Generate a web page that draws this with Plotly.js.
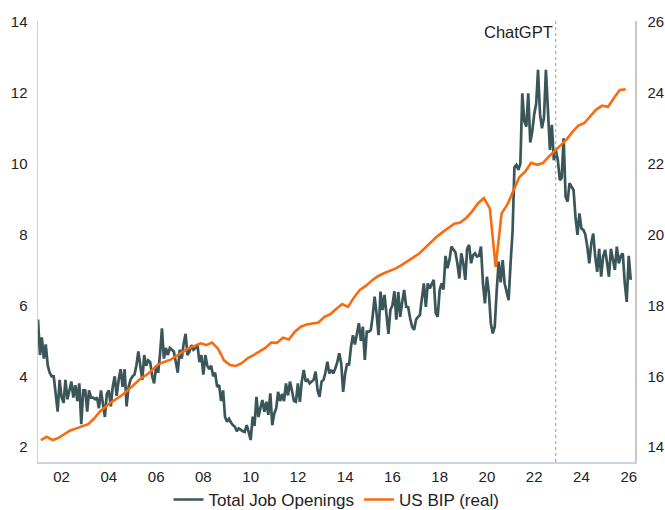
<!DOCTYPE html>
<html>
<head>
<meta charset="utf-8">
<script src="https://cdn.plot.ly/plotly-3.0.1.min.js"></script>
<style>
  html, body { margin: 0; padding: 0; background: #ffffff; }
  #chart { width: 665px; height: 510px; }
</style>
</head>
<body>
<div id="chart"></div>
<script>
// Total Job Openings (millions), monthly from Jan 2001
const jobStart = [2001, 1];
const jobOpenings = [
  5.6, 4.6, 5.1, 4.5, 4.9, 4.3, 4.1, 4.0, 4.0, 3.5, 3.0, 3.9,
  3.4, 3.25, 3.9, 3.35, 3.6, 3.85, 3.4, 3.75, 3.3, 3.8, 2.65, 3.6,
  3.6, 3.0, 3.6, 3.4, 3.4, 3.35, 3.4, 3.1, 3.6, 3.15, 2.85, 3.5,
  3.6, 3.15, 3.7, 4.0, 3.45, 3.9, 4.2, 3.7, 4.2, 3.15, 3.7, 3.9,
  4.0, 4.05, 4.3, 4.7, 4.3, 3.9, 4.6, 4.3, 4.45, 4.4, 4.0, 3.8,
  4.3, 4.1, 4.6, 5.35, 4.5, 4.8, 4.6, 4.8, 4.75, 4.7, 4.4, 4.1,
  4.75, 4.5, 4.9, 5.2, 4.6, 4.7, 4.88, 4.75, 4.8, 4.9, 4.4, 4.6,
  4.05, 4.6, 4.3, 4.2, 4.3, 4.0, 4.1, 3.7, 3.75, 3.3, 3.6, 2.85,
  2.72, 2.8, 2.7, 2.62, 2.58, 2.45, 2.53, 2.48, 2.45, 2.43, 2.62, 2.43,
  2.2, 2.86, 2.6, 3.42, 2.85, 3.1, 3.33, 3.0, 3.28, 2.91, 3.52, 2.62,
  2.95, 3.1, 3.56, 3.3, 3.5, 3.3, 3.8, 3.46, 3.85, 3.6, 3.3, 3.28,
  3.8, 3.28, 3.85, 4.18, 3.85, 3.9, 3.8, 3.85, 3.9, 4.13, 3.6, 3.42,
  3.85, 3.9, 4.1, 4.41, 4.08, 4.18, 4.08, 4.22, 4.4, 4.65, 4.36, 3.56,
  4.08, 4.36, 4.31, 4.83, 5.16, 4.9, 5.26, 5.5, 5.0, 5.4, 4.46, 5.26,
  5.26, 5.3, 5.68, 6.25, 5.78, 5.16, 6.39, 5.87, 6.3, 5.64, 5.2, 5.87,
  6.0, 6.4, 5.6, 6.38, 5.68, 6.1, 6.44, 5.96, 5.95, 5.64, 5.4, 5.31,
  5.6, 5.68, 5.73, 6.2, 6.62, 5.96, 6.62, 6.48, 6.62, 6.72, 5.78, 5.68,
  6.44, 6.62, 6.45, 7.4, 7.05, 7.28, 7.66, 7.57, 7.5, 7.19, 6.76, 7.47,
  7.19, 6.72, 7.6, 7.71, 7.19, 7.42, 7.47, 7.38, 7.4, 7.66, 6.62, 6.06,
  6.81, 6.34, 5.5, 5.21, 5.4, 6.44, 7.24, 6.65, 7.28, 6.62, 6.34, 6.15,
  7.2, 8.1, 9.9, 9.97, 9.83, 10.0, 11.99, 11.2, 11.05, 11.99, 10.6, 10.9,
  11.4, 11.7, 12.65, 11.4, 11.0, 11.3, 12.65, 11.4, 10.39, 11.1, 10.1, 10.39,
  10.1, 9.54, 9.6, 10.72, 9.07, 8.93, 9.45, 9.35, 9.26, 8.5, 7.99, 8.6,
  8.17, 8.13, 8.0, 7.66, 7.19, 7.75, 8.03, 7.38, 6.95, 7.6, 6.81, 7.38,
  7.57, 7.19, 6.81, 7.6, 7.3, 7.0, 7.66, 7.19, 7.4, 7.47, 6.62, 6.1,
  7.4, 6.72
];

// US BIP (real), trillions, quarterly from 2001 Q1 (plotted mid-quarter)
const gdpStart = [2001, 1];
const gdpReal = [
  14.2, 14.29, 14.2, 14.26,
  14.37, 14.47, 14.53, 14.58,
  14.65, 14.8, 15.0, 15.15,
  15.28, 15.38, 15.5, 15.65,
  15.8, 15.95, 16.05, 16.2,
  16.35, 16.41, 16.47, 16.58,
  16.7, 16.79, 16.85, 16.93,
  16.88, 16.95, 16.78, 16.45,
  16.32, 16.29, 16.37, 16.51,
  16.6, 16.7, 16.8, 16.95,
  16.95, 17.09, 17.04, 17.26,
  17.4, 17.46, 17.49, 17.52,
  17.68, 17.75, 17.9, 18.04,
  17.96, 18.22, 18.44, 18.55,
  18.7, 18.82, 18.9, 18.96,
  19.04, 19.13, 19.25, 19.35,
  19.46, 19.62, 19.78, 19.94,
  20.07, 20.2, 20.31, 20.34,
  20.47, 20.65, 20.88, 21.03,
  20.74, 19.09, 20.6, 20.86,
  21.25, 21.62, 21.78, 22.03,
  21.97, 22.02, 22.2, 22.36,
  22.5, 22.68, 22.9, 23.08,
  23.15, 23.35, 23.53, 23.64,
  23.61, 23.85, 24.08, 24.1
];

const seriesNames = ['Total Job Openings', 'US BIP (real)'];
const eventLabel = 'ChatGPT';
const eventDate = '2022-11-30';
const xTickVals = ['2002-01-01','2004-01-01','2006-01-01','2008-01-01','2010-01-01','2012-01-01','2014-01-01','2016-01-01','2018-01-01','2020-01-01','2022-01-01','2024-01-01','2026-01-01'];
const xTickText = ['02','04','06','08','10','12','14','16','18','20','22','24','26'];
const yLeftTicks = [2, 4, 6, 8, 10, 12, 14];
const yRightTicks = [14, 16, 18, 20, 22, 24, 26];

function pad(n) { return (n < 10 ? '0' : '') + n; }
function monthDates(start, count, stepMonths, day) {
  const out = [];
  let y = start[0], m = start[1];
  for (let i = 0; i < count; i++) {
    out.push(y + '-' + pad(m) + '-' + day);
    m += stepMonths;
    while (m > 12) { m -= 12; y += 1; }
  }
  return out;
}
const jobDates = monthDates(jobStart, jobOpenings.length, 1, '01');
const gdpDates = monthDates([gdpStart[0], gdpStart[1] + 1], gdpReal.length, 3, '15');

const FONT = 'Liberation Sans, Arial, sans-serif';

const traces = [
  {
    x: jobDates, y: jobOpenings, name: seriesNames[0],
    type: 'scatter', mode: 'lines',
    line: { color: '#3b5659', width: 2.7 },
    yaxis: 'y'
  },
  {
    x: gdpDates, y: gdpReal, name: seriesNames[1],
    type: 'scatter', mode: 'lines',
    line: { color: '#fa6b10', width: 2.6 },
    yaxis: 'y2'
  }
];

const layout = {
  width: 665, height: 510,
  margin: { l: 38, r: 30, t: 21, b: 48, autoexpand: false },
  paper_bgcolor: '#ffffff', plot_bgcolor: '#ffffff',
  font: { family: FONT, size: 15, color: '#222222' },
  showlegend: true,
  legend: {
    orientation: 'h', x: 0.5, xanchor: 'center', y: -0.086, yanchor: 'middle',
    font: { family: FONT, size: 17, color: '#222222' },
    itemwidth: 30, tracegroupgap: 0
  },
  xaxis: {
    type: 'date', range: ['2001-01-01', '2026-04-08'],
    tickmode: 'array', tickvals: xTickVals, ticktext: xTickText,
    showgrid: false, zeroline: false,
    showline: true, linecolor: '#c9d5d8', linewidth: 1.5,
    ticks: '', tickfont: { family: FONT, size: 15, color: '#222222' },
    fixedrange: true
  },
  yaxis: {
    range: [1.58, 14.03], tickmode: 'array', tickvals: yLeftTicks,
    showgrid: false, zeroline: false,
    showline: true, linecolor: '#c9d5d8', linewidth: 1.5,
    ticks: '', ticklabelstandoff: 6,
    tickfont: { family: FONT, size: 15, color: '#222222' }
  },
  yaxis2: {
    range: [13.58, 26.03], tickmode: 'array', tickvals: yRightTicks,
    overlaying: 'y', side: 'right',
    showgrid: false, zeroline: false,
    showline: true, linecolor: '#c8c8c8', linewidth: 1.5,
    ticks: '', ticklabelstandoff: 8,
    tickfont: { family: FONT, size: 15, color: '#222222' }
  },
  shapes: [{
    type: 'line', xref: 'x', yref: 'paper',
    x0: eventDate, x1: eventDate, y0: 0, y1: 1,
    line: { color: '#8f9d9e', width: 1, dash: 'dot' }
  }],
  annotations: [{
    x: eventDate, xref: 'x', y: 1, yref: 'paper',
    xanchor: 'right', yanchor: 'top', xshift: -1, yshift: 0,
    text: eventLabel, showarrow: false,
    font: { family: FONT, size: 16.5, color: '#222222' }
  }]
};

Plotly.newPlot('chart', traces, layout, { displayModeBar: false, staticPlot: true });
</script>
</body>
</html>
